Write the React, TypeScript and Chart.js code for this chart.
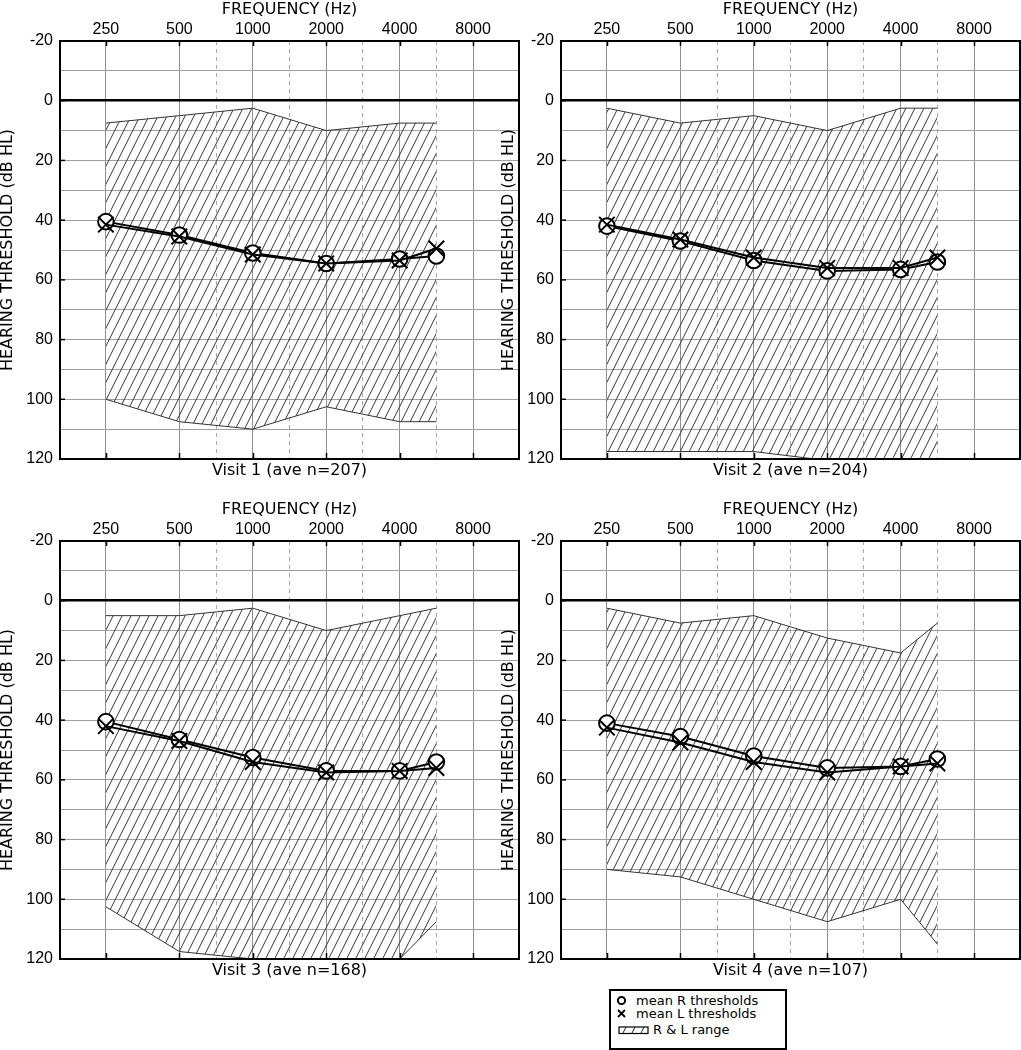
import React, { useEffect, useRef } from "react";
import { Chart, registerables } from "chart.js";

Chart.register(...registerables);

// ---------------- data ----------------
const FREQUENCIES = [250, 500, 1000, 2000, 4000, 6000];
const OCTAVE_LABELS = ["250", "500", "1000", "2000", "4000", "8000"];
const AXIS_FREQS = [250, 500, 750, 1000, 1500, 2000, 3000, 4000, 6000, 8000];
const DB_MIN = -20;
const DB_MAX = 120;

const VISIT_TITLES = [
  "Visit 1 (ave n=207)",
  "Visit 2 (ave n=204)",
  "Visit 3 (ave n=168)",
  "Visit 4 (ave n=107)",
];

const V1_RIGHT = [40.5, 45, 51, 54.5, 53, 52];
const V1_LEFT = [41.5, 45.5, 51.5, 54.5, 53.5, 49.5];
const V1_UPPER = [7.5, 5, 2.5, 10, 7.5, 7.5];
const V1_LOWER = [100, 107.5, 110, 102.5, 107.5, 107.5];

const V2_RIGHT = [42, 47, 53.5, 57, 56.5, 54];
const V2_LEFT = [41.5, 46.5, 52.5, 56, 56, 52.5];
const V2_UPPER = [2.5, 7.5, 5, 10, 2.5, 2.5];
const V2_LOWER = [117.5, 117.5, 117.5, 120.5, 125, 125];

const V3_RIGHT = [40.5, 46.5, 52.5, 57, 57, 54];
const V3_LEFT = [42, 47, 54, 57.5, 57, 56];
const V3_UPPER = [5, 5, 2.5, 10, 5, 2.5];
const V3_LOWER = [102.5, 117.5, 120, 125, 120, 107.5];

const V4_RIGHT = [41, 45.5, 52, 56, 55.5, 53];
const V4_LEFT = [42.5, 47.5, 54, 57.5, 55.5, 54.5];
const V4_UPPER = [2.5, 7.5, 5, 12.5, 17.5, 7.5];
const V4_LOWER = [90, 92.5, 100, 107.5, 100, 115];

// ---------------- helpers ----------------
// audiogram column: octaves above 250 Hz; inter-octave frequencies sit mid-octave
function freqToX(f: number): number {
  const oct = Math.floor(Math.log2(f / 250) + 1e-9);
  const base = 250 * Math.pow(2, oct);
  return oct + (f > base + 1e-6 ? 0.5 : 0);
}

const X_MIN = -0.625;
const X_MAX = 5.625;

const TITLE_FONT = { family: "DejaVu Sans", size: 16, lineHeight: 1 };
const TICK_FONT = { family: "Liberation Sans", size: 16 };

function makeHatch(): CanvasPattern | string {
  const c = document.createElement("canvas");
  c.width = 9;
  c.height = 18;
  const g = c.getContext("2d");
  if (!g) return "rgba(0,0,0,0)";
  g.strokeStyle = "#3a3a3a";
  g.lineWidth = 1;
  for (let k = -1; k <= 1; k++) {
    g.beginPath();
    g.moveTo(k * 9, 18);
    g.lineTo(k * 9 + 9, 0);
    g.stroke();
  }
  return g.createPattern(c, "repeat") || "rgba(0,0,0,0)";
}

const framePlugin = {
  id: "audioFrame",
  afterDraw(chart: any) {
    const { ctx, chartArea: a, scales } = chart;
    ctx.save();
    ctx.strokeStyle = "#000";
    ctx.lineWidth = 2;
    ctx.strokeRect(a.left, a.top, a.right - a.left, a.bottom - a.top);
    ctx.lineWidth = 1.5;
    const xs = scales.x;
    xs.ticks.forEach((t: any) => {
      if (!Number.isInteger(t.value)) return;
      const px = Math.round(xs.getPixelForValue(t.value)) + 0.5;
      ctx.beginPath();
      ctx.moveTo(px, a.top);
      ctx.lineTo(px, a.top + 5);
      ctx.moveTo(px, a.bottom);
      ctx.lineTo(px, a.bottom - 6);
      ctx.stroke();
    });
    const ys = scales.y;
    ys.ticks.forEach((t: any) => {
      if (t.value % 20 !== 0) return;
      const py = ys.getPixelForValue(t.value);
      ctx.beginPath();
      ctx.moveTo(a.left, py);
      ctx.lineTo(a.left + 5, py);
      ctx.stroke();
    });
    ctx.restore();
  },
};

type PanelProps = {
  left: number;
  top: number;
  width: number;
  height: number;
  right: number[];
  leftEar: number[];
  upper: number[];
  lower: number[];
  title: string;
};

const PLOT_LEFT = 60;
const PLOT_TOP = 41;
const PLOT_W = 459;
const PLOT_H = 418;

function Panel(p: PanelProps) {
  const ref = useRef<HTMLCanvasElement | null>(null);
  useEffect(() => {
    const canvas = ref.current;
    if (!canvas) return;
    const hatch = makeHatch();
    const pts = (arr: number[]) =>
      FREQUENCIES.map((f, i) => ({ x: freqToX(f), y: arr[i] }));
    const chart = new Chart(canvas, {
      type: "line",
      data: {
        datasets: [
          {
            label: "upper",
            data: pts(p.upper),
            borderColor: "#333",
            borderWidth: 1,
            pointRadius: 0,
            fill: "+1",
            backgroundColor: hatch as any,
            order: 4,
          },
          {
            label: "lower",
            data: pts(p.lower),
            borderColor: "#333",
            borderWidth: 1,
            pointRadius: 0,
            fill: false,
            order: 3,
          },
          {
            label: "mean R thresholds",
            data: pts(p.right),
            borderColor: "#000",
            borderWidth: 2,
            pointStyle: "circle",
            pointRadius: 7.8,
            pointBorderWidth: 2,
            pointBackgroundColor: "#fff",
            pointBorderColor: "#000",
            fill: false,
            order: 2,
          },
          {
            label: "mean L thresholds",
            data: pts(p.leftEar),
            borderColor: "#000",
            borderWidth: 2,
            pointStyle: "crossRot",
            pointRadius: 11,
            pointBorderWidth: 2,
            pointBorderColor: "#000",
            fill: false,
            order: 1,
          },
        ],
      },
      options: {
        animation: false,
        responsive: false,
        devicePixelRatio: 1,
        elements: { line: { tension: 0 } },
        layout: {
          autoPadding: false,
          padding: {
            left: 0,
            top: 0,
            right: p.width - PLOT_LEFT - PLOT_W,
            bottom: 0,
          },
        },
        plugins: {
          legend: { display: false },
          tooltip: { enabled: false },
          title: { display: false },
        },
        scales: {
          x: {
            type: "linear",
            position: "top",
            min: X_MIN,
            max: X_MAX,
            afterBuildTicks: (s: any) => {
              s.ticks = AXIS_FREQS.map((f) => ({ value: freqToX(f) }));
            },
            afterFit: (s: any) => {
              s.height = PLOT_TOP;
              s.paddingLeft = 0;
              s.paddingRight = 0;
            },
            ticks: {
              autoSkip: false,
              maxRotation: 0,
              padding: 2,
              color: "#000",
              font: TICK_FONT,
              callback: (v: any) =>
                Number.isInteger(v) ? OCTAVE_LABELS[v] ?? "" : "",
            },
            grid: {
              drawTicks: false,
              lineWidth: 1,
              color: (c: any) =>
                Number.isInteger(c.tick?.value) ? "#8e8e8e" : "#a8a8a8",
            },
            border: {
              display: false,
              dash: (c: any) =>
                c.tick && !Number.isInteger(c.tick.value) ? [4, 4] : [],
            },
            title: {
              display: true,
              text: "FREQUENCY (Hz)",
              color: "#000",
              font: TITLE_FONT,
              padding: { top: 2, bottom: 0 },
            },
          },
          x2: {
            type: "linear",
            position: "bottom",
            min: X_MIN,
            max: X_MAX,
            afterFit: (s: any) => {
              s.height = p.height - PLOT_TOP - PLOT_H;
              s.paddingLeft = 0;
              s.paddingRight = 0;
            },
            ticks: { display: false },
            grid: { display: false, drawTicks: false },
            border: { display: false },
            title: {
              display: true,
              text: p.title,
              color: "#000",
              font: TITLE_FONT,
              padding: { top: 0, bottom: 11 },
            },
          },
          y: {
            type: "linear",
            reverse: true,
            min: DB_MIN,
            max: DB_MAX,
            afterFit: (s: any) => {
              s.width = PLOT_LEFT;
            },
            ticks: {
              stepSize: 10,
              autoSkip: false,
              padding: 7,
              color: "#000",
              font: TICK_FONT,
              callback: (v: any) => (Number(v) % 20 === 0 ? String(v) : ""),
            },
            grid: {
              drawTicks: false,
              color: (c: any) => (c.tick?.value === 0 ? "#000" : "#a0a0a0"),
              lineWidth: (c: any) => (c.tick?.value === 0 ? 2.5 : 1),
            },
            border: { display: false },
            title: {
              display: true,
              text: "HEARING THRESHOLD (dB HL)",
              color: "#000",
              font: TITLE_FONT,
              padding: 0,
            },
          },
        },
      } as any,
      plugins: [framePlugin],
    });
    return () => chart.destroy();
  }, []);
  return (
    <canvas
      ref={ref}
      width={p.width}
      height={p.height}
      style={{
        position: "absolute",
        left: p.left,
        top: p.top,
        width: p.width,
        height: p.height,
      }}
    />
  );
}

function Legend() {
  return (
    <svg
      width={178}
      height={61}
      style={{ position: "absolute", left: 609, top: 989 }}
    >
      <defs>
        <pattern id="legHatch" width={9} height={18} patternUnits="userSpaceOnUse">
          <line x1={0} y1={18} x2={9} y2={0} stroke="#222" strokeWidth={1} />
          <line x1={-9} y1={18} x2={0} y2={0} stroke="#222" strokeWidth={1} />
          <line x1={9} y1={18} x2={18} y2={0} stroke="#222" strokeWidth={1} />
        </pattern>
      </defs>
      <rect x={1} y={1} width={176} height={59} fill="#fff" stroke="#000" strokeWidth={2} />
      <circle cx={12.5} cy={11.5} r={3.6} fill="none" stroke="#000" strokeWidth={2} />
      <text x={27} y={16} fontFamily="DejaVu Sans" fontSize={13} fill="#000">
        mean R thresholds
      </text>
      <line x1={9} y1={21} x2={16} y2={28} stroke="#000" strokeWidth={1.8} />
      <line x1={16} y1={21} x2={9} y2={28} stroke="#000" strokeWidth={1.8} />
      <text x={27} y={29} fontFamily="DejaVu Sans" fontSize={13} fill="#000">
        mean L thresholds
      </text>
      <rect x={10} y={38} width={29} height={6.5} fill="url(#legHatch)" stroke="#000" strokeWidth={1.2} />
      <text x={44} y={45} fontFamily="DejaVu Sans" fontSize={13} fill="#000">
        R &amp; L range
      </text>
    </svg>
  );
}

export default function App() {
  return (
    <div
      style={{
        position: "fixed",
        left: 0,
        top: 0,
        width: 1021,
        height: 1050,
        background: "#fff",
        overflow: "hidden",
      }}
    >
      <Panel left={0} top={0} width={521} height={490} right={V1_RIGHT} leftEar={V1_LEFT} upper={V1_UPPER} lower={V1_LOWER} title={VISIT_TITLES[0]} />
      <Panel left={501} top={0} width={520} height={490} right={V2_RIGHT} leftEar={V2_LEFT} upper={V2_UPPER} lower={V2_LOWER} title={VISIT_TITLES[1]} />
      <Panel left={0} top={500} width={521} height={490} right={V3_RIGHT} leftEar={V3_LEFT} upper={V3_UPPER} lower={V3_LOWER} title={VISIT_TITLES[2]} />
      <Panel left={501} top={500} width={520} height={490} right={V4_RIGHT} leftEar={V4_LEFT} upper={V4_UPPER} lower={V4_LOWER} title={VISIT_TITLES[3]} />
      <Legend />
    </div>
  );
}
